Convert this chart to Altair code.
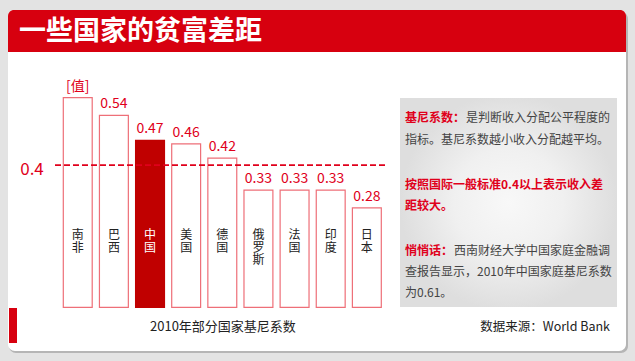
import altair as alt
import pandas as pd

countries = ["南非", "巴西", "中国", "美国", "德国", "俄罗斯", "法国", "印度", "日本"]
gini = [0.59, 0.54, 0.47, 0.46, 0.42, 0.33, 0.33, 0.33, 0.28]
value_labels = ["[值]", "0.54", "0.47", "0.46", "0.42", "0.33", "0.33", "0.33", "0.28"]
threshold = 0.4

title_text = "一些国家的贫富差距"
caption_text = "2010年部分国家基尼系数"
source_text = "数据来源：World Bank"
note1_head = "基尼系数："
note1_body = ["是判断收入分配公平程度的", "指标。基尼系数越小收入分配越平均。"]
note2 = ["按照国际一般标准0.4以上表示收入差", "距较大。"]
note3_head = "悄悄话："
note3_body = ["西南财经大学中国家庭金融调", "查报告显示，2010年中国家庭基尼系数", "为0.61。"]

FONT = "Noto Sans CJK SC"
RED = "#e0001b"
HEAD_RED = "#d7000f"
DARK_RED = "#c00000"
BAR_STROKE = "#ee6f78"

df = pd.DataFrame({
    "country": countries,
    "gini": gini,
    "label": value_labels,
    "vlabel": ["\n".join(c) for c in countries],
})

one = alt.Data(values=[{}])

xs = alt.Scale(domain=countries, range=[63.3, 381.3], paddingInner=0.2, paddingOuter=0)
ys = alt.Scale(domain=[0, 0.8], range=[307.3, 23.1], nice=False, zero=True)

# decoration
shadow = alt.Chart(one).mark_rect(color="#b5b5b5", cornerRadius=7).encode(
    x=alt.value(9), x2=alt.value(628), y=alt.value(12), y2=alt.value(353))
panel = alt.Chart(one).mark_rect(color="white", cornerRadius=7).encode(
    x=alt.value(8), x2=alt.value(626), y=alt.value(10), y2=alt.value(351))
header = alt.Chart(one).mark_rect(color=HEAD_RED, cornerRadiusTopLeft=6, cornerRadiusTopRight=6).encode(
    x=alt.value(8), x2=alt.value(626), y=alt.value(10), y2=alt.value(52))
title = alt.Chart(one).mark_text(
    text=title_text, font=FONT, fontSize=27, fontWeight="bold", color="white",
    align="left", baseline="middle").encode(x=alt.value(19), y=alt.value(32))
corner = alt.Chart(one).mark_rect(color=HEAD_RED).encode(
    x=alt.value(9), x2=alt.value(17), y=alt.value(308), y2=alt.value(343))

grad = alt.Gradient(gradient="radial",
                    stops=[alt.GradientStop(color="#f8f8f8", offset=0),
                           alt.GradientStop(color="#f0f0f0", offset=0.5),
                           alt.GradientStop(color="#dedede", offset=1)])
box = alt.Chart(one).mark_rect(color=grad).encode(
    x=alt.value(400), x2=alt.value(617), y=alt.value(98), y2=alt.value(307))

# bars
bars = alt.Chart(df).mark_bar(strokeWidth=1.2).encode(
    x=alt.X("country:N", scale=xs, sort=None, axis=None),
    y=alt.Y("gini:Q", scale=ys, axis=None),
    y2=alt.datum(0),
    fill=alt.condition(alt.datum.country == "中国", alt.value(DARK_RED), alt.value("white")),
    stroke=alt.condition(alt.datum.country == "中国", alt.value(DARK_RED), alt.value(BAR_STROKE)),
)
vals = alt.Chart(df).mark_text(font=FONT, fontSize=14, color=RED, baseline="alphabetic", dy=-7).encode(
    x=alt.X("country:N", scale=xs, sort=None, axis=None),
    y=alt.Y("gini:Q", scale=ys, axis=None),
    text="label:N",
)
names = alt.Chart(df).mark_text(font=FONT, fontSize=12, lineBreak="\n", lineHeight=12.5,
                                baseline="top").encode(
    x=alt.X("country:N", scale=xs, sort=None, axis=None),
    y=alt.value(230),
    text="vlabel:N",
    color=alt.condition(alt.datum.country == "中国", alt.value("white"), alt.value("#222222")),
)
rule = alt.Chart(one).mark_rule(color=RED, strokeWidth=1.7, strokeDash=[6, 3]).encode(
    x=alt.value(55), x2=alt.value(388), y=alt.Y(datum=threshold, scale=ys, axis=None))
thr_label = alt.Chart(one).mark_text(text=str(threshold), font=FONT, fontSize=17, color=RED,
                                     align="center", baseline="middle", dy=5).encode(
    x=alt.value(32), y=alt.Y(datum=threshold, scale=ys, axis=None))

caption = alt.Chart(one).mark_text(text=caption_text, font=FONT, fontSize=13, color="#222222",
                                   align="left", baseline="middle").encode(x=alt.value(150), y=alt.value(327))
source = alt.Chart(one).mark_text(text=source_text, font=FONT, fontSize=12.5, color="#222222",
                                  align="right", baseline="middle").encode(x=alt.value(610), y=alt.value(327))

def txt(s, x, y, color="#444444", bold=False):
    return alt.Chart(one).mark_text(text=s, font=FONT, fontSize=12, color=color,
                                    fontWeight="bold" if bold else "normal",
                                    align="left", baseline="middle").encode(x=alt.value(x), y=alt.value(y))

notes = [
    txt(note1_head, 405, 118, RED, True),
    txt(note1_body[0], 466, 118),
    txt(note1_body[1], 405, 140),
    txt(note2[0], 405, 185, RED, True),
    txt(note2[1], 405, 206, RED, True),
    txt(note3_head, 405, 251, RED, True),
    txt(note3_body[0], 454, 251),
    txt(note3_body[1], 405, 272),
    txt(note3_body[2], 405, 293),
]

chart = alt.layer(shadow, panel, header, title, corner, box, bars, rule, vals, names, thr_label,
                  caption, source, *notes).properties(
    width=635, height=361, autosize=alt.AutoSizeParams(type="none"), padding=0,
    background="#e3e3e3",
).configure_view(stroke=None)

chart.save("out.html", embed_options={"renderer": "svg", "actions": False})
